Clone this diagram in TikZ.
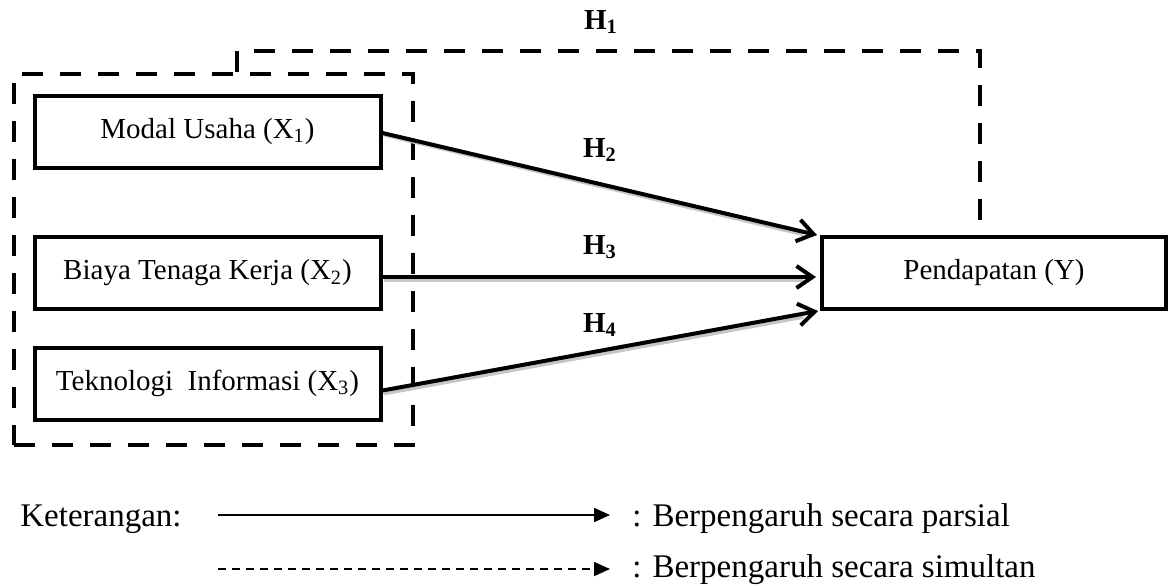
\documentclass[tikz,border=0pt]{standalone}
\usepackage{fontspec}
\setmainfont{Liberation Serif}
\usetikzlibrary{arrows.meta,calc}
\begin{document}
\begin{tikzpicture}[x=0.5pt,y=-0.5pt,
  varbox/.style={draw,line width=2pt,minimum width=173pt,minimum height=36pt,inner sep=0pt,font=\fontsize{14.5}{16}\selectfont},
  grp/.style={line width=2pt,dash pattern=on 10.5pt off 8.5pt},
  hyp/.style={line width=2pt,-{Straight Barb[length=8pt,width=11pt,line width=2pt]}},
  shd/.style={line width=2pt,gray!45,shorten >=8pt},
  hlab/.style={font=\fontsize{14.5}{16}\selectfont\bfseries,inner sep=0pt},
  leg/.style={font=\fontsize{16.5}{18}\selectfont,anchor=west,inner sep=0pt}]
\useasboundingbox (0,0) rectangle (1176,585);
% variable boxes
\node[varbox] (m) at (207.5,131.5) {Modal Usaha (X\textsubscript{1})};
\node[varbox] (b) at (207.5,273) {Biaya Tenaga Kerja (X\textsubscript{2})};
\node[varbox] (t) at (207.5,383.5) {Teknologi\ \ Informasi (X\textsubscript{3})};
\node[varbox,minimum width=172pt] (p) at (994,273) {Pendapatan (Y)};
% group box
\node[draw,grp,minimum width=199.5pt,minimum height=185.5pt,inner sep=0pt] (g) at (213.5,259.5) {};
% H1 simultaneous path
\coordinate (hx) at (237,0);
\coordinate (px) at (980,0);
\draw[grp] (g.north -| hx) -- ++(0,-21) -| (p.north -| px);
% shadows
\draw[shd] ($(m.east)+(1,3)$) -- ($(p.north west)+(-1,3)$);
\draw[shd] ($(b.east)+(1,7)$) -- ($(p.west)+(-1,7)$);
\draw[shd] ($(t.east)+(1,10)$) -- ($(p.south west)+(-1,3)$);
% partial arrows
\draw[hyp] ($(m.east)+(0,1.5)$) -- ($(p.north west)+(-3,0)$);
\draw[hyp] ($(b.east)+(0,4)$) -- ($(p.west)+(-4,4)$);
\draw[hyp] ($(t.east)+(0,7)$) -- ($(p.south west)+(-2,0)$);
% labels
\node[hlab] (h1) at (601,22) {H\textsubscript{1}};
\node[hlab] (h2) at (600,150) {H\textsubscript{2}};
\node[hlab] (h3) at (600,247) {H\textsubscript{3}};
\node[hlab] (h4) at (600,325) {H\textsubscript{4}};
% legend
\node[leg] (k) at (20,519) {Keterangan:};
\coordinate (l1a) at (218,515);
\coordinate (l1b) at (610,515);
\coordinate (l2a) at (218,569);
\coordinate (l2b) at (610,569);
\draw[line width=0.8pt,-{Triangle[length=8pt,width=7pt]}] (l1a) -- (l1b);
\draw[line width=0.8pt,dash pattern=on 4pt off 3pt,-{Triangle[length=8pt,width=7pt]}] (l2a) -- (l2b);
\node[leg] (lp) at (632,519) {: Berpengaruh secara parsial};
\node[leg] (ls) at (632,570) {: Berpengaruh secara simultan};
\end{tikzpicture}
\end{document}
